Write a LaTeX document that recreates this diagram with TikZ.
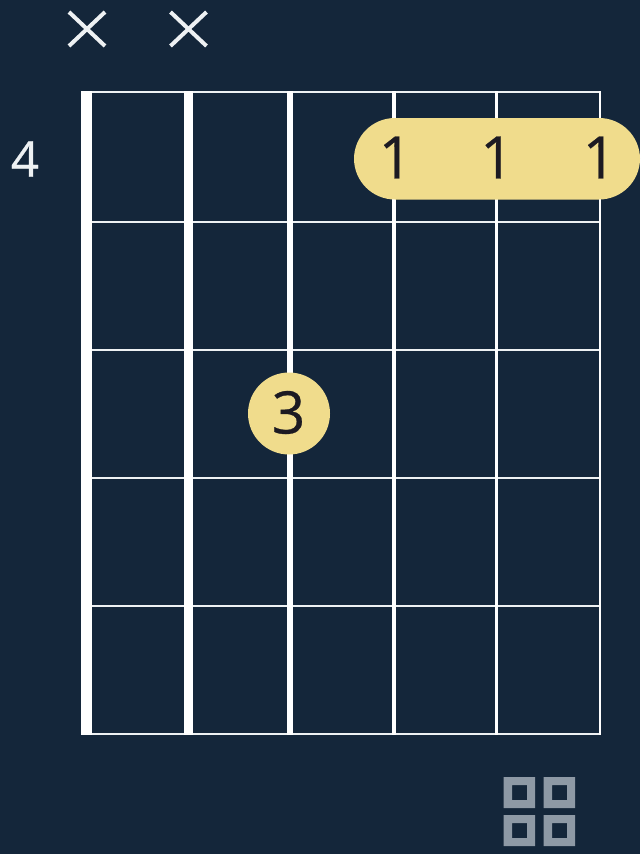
\documentclass[tikz,border=0pt]{standalone}
\usepackage{fontspec}
\setmainfont{Open Sans}
\newfontfamily\heavierfont[FakeBold=0.5]{Open Sans}
\definecolor{bgc}{HTML}{14263A}
\definecolor{barc}{HTML}{F0DC8C}
\definecolor{inkc}{HTML}{1C1A22}
\definecolor{iconc}{HTML}{8E99A5}
\definecolor{linec}{HTML}{EEF1F3}
\tikzset{
  fretline/.style={draw=linec,line width=1.4pt},
  stringline/.style={draw=white,line cap=butt},
  mute/.style={draw=linec,line width=3pt},
  fingertext/.style={text=inkc,inner sep=0pt,font=\heavierfont\fontsize{44}{44}\selectfont},
  fretnum/.style={text=linec,inner sep=0pt,font=\heavierfont\fontsize{37}{37}\selectfont},
  fingerdot/.style={fill=barc,draw=none},
  iconsq/.style={fill=iconc,draw=none,even odd rule}
}
\begin{document}
\begin{tikzpicture}[x=0.75pt,y=-0.75pt]
\fill[bgc] (0,0) rectangle (640,854);
\useasboundingbox (0,0) rectangle (640,854);
% frets
\foreach \y in {92,222,350,478,606,734}{
  \draw[fretline] (81,\y) -- (601,\y);
}
% strings
\foreach \x/\w in {86.5/8.2,188.5/6.2,289.5/4.5,393.5/3,496.5/2.2,600/1.6}{
  \draw[stringline,line width=\w pt] (\x,91) -- (\x,735);
}
% mutes
\foreach \x in {87,188.5}{
  \draw[mute] (\x-18,12) -- (\x+18,46);
  \draw[mute] (\x-18,46) -- (\x+18,12);
}
% barre
\fill[fingerdot,rounded corners=30.7pt] (354,118) rectangle (640,199.5);
\fill[fingerdot] (289,413.5) circle (41);
\node[fingertext] (fa) at (395.5,157.5) {1};
\node[fingertext] (fb) at (497,157.5) {1};
\node[fingertext] (fc) at (599.5,157.5) {1};
\node[fingertext] (fd) at (288.5,412.5) {3};
\node[fretnum] (fn) at (25,159) {4};
% icon
\foreach \x/\y in {503.5/777,543.5/777,503.5/815,543.5/815}{
  \fill[iconsq] (\x,\y) rectangle ++(31.5,31) (\x+8.5,\y+8) rectangle ++(15,15);
}
\end{tikzpicture}
\end{document}
